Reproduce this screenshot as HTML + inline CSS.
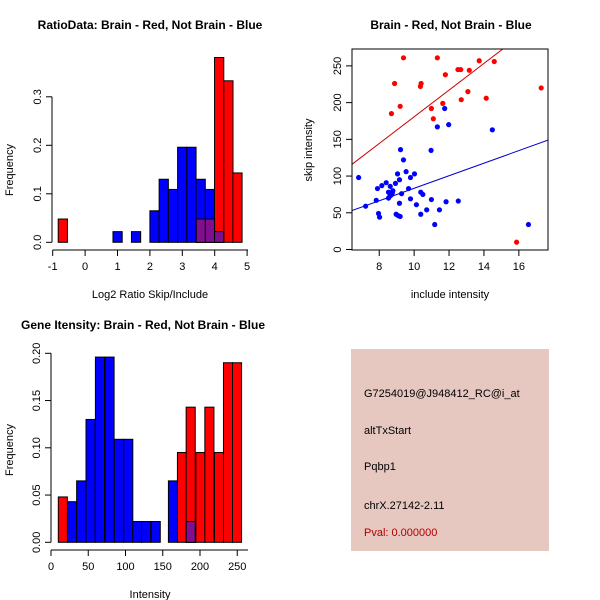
<!DOCTYPE html>
<html><head><meta charset="utf-8"><style>
body{margin:0;background:#fff}
svg{display:block;font-family:"Liberation Sans",sans-serif}
</style></head><body>
<svg id="c" width="600" height="600" viewBox="0 0 600 600" xmlns="http://www.w3.org/2000/svg">
<text x="150" y="29" text-anchor="middle" font-size="12" font-weight="bold">RatioData: Brain - Red, Not Brain - Blue</text>
<text x="451" y="29" text-anchor="middle" font-size="12" font-weight="bold">Brain - Red, Not Brain - Blue</text>
<text x="143" y="329" text-anchor="middle" font-size="12" font-weight="bold">Gene Itensity: Brain - Red, Not Brain - Blue</text>
<text x="150" y="298" text-anchor="middle" font-size="11">Log2 Ratio Skip/Include</text>
<text transform="translate(13,170) rotate(-90)" text-anchor="middle" font-size="11">Frequency</text>
<text x="450" y="298" text-anchor="middle" font-size="11">include intensity</text>
<text transform="translate(312,150) rotate(-90)" text-anchor="middle" font-size="11">skip intensity</text>
<text x="150" y="598" text-anchor="middle" font-size="11">Intensity</text>
<text transform="translate(13,450) rotate(-90)" text-anchor="middle" font-size="11">Frequency</text>
<g>
<rect x="351" y="349" width="198" height="202" fill="#e6c8c0"/>
<text x="364" y="397" font-size="11">G7254019@J948412_RC@i_at</text>
<text x="364" y="434" font-size="11">altTxStart</text>
<text x="364" y="470" font-size="11">Pqbp1</text>
<text x="364" y="509" font-size="11">chrX.27142-2.11</text>
<text x="364" y="536" font-size="11" fill="#b00000">Pval: 0.000000</text>
</g>
</svg>
<script>
// ---- Ratio histogram data ----
const ratioBlueStarts=[0.86,1.43,2.0,2.285,2.57,2.855,3.14,3.425,3.71,3.995];
const ratioBlueFreq=[0.022,0.022,0.065,0.13,0.109,0.196,0.196,0.13,0.109,0.022];
const ratioRedStarts=[-0.83,3.43,3.71,3.995,4.28,4.56];
const ratioRedFreq=[0.048,0.048,0.048,0.381,0.333,0.143];
const ratioXTicks=[-1,0,1,2,3,4,5];
const ratioYTicks=[0,0.1,0.2,0.3];
// ---- Intensity histogram data ----
const intBlueStarts=[22.4,34.4,47,59.6,72.5,85,97.6,109.7,121.5,134.5,157.6,181.4];
const intBlueFreq=[0.043,0.065,0.13,0.196,0.196,0.109,0.109,0.022,0.022,0.022,0.065,0.022];
const intRedStarts=[9.8,169.7,181.4,194.4,206.5,219.5,231.5,243.6];
const intRedFreq=[0.048,0.095,0.143,0.095,0.143,0.095,0.19,0.19];
const intXTicks=[0,50,100,150,200,250];
const intYTicks=["0.00","0.05","0.10","0.15","0.20"];
// ---- Scatter data ----
const redX=[9.39,11.33,8.88,10.4,10.36,8.7,9.2,11.79,12.51,12.67,13.16,13.73,14.59,13.08,12.7,11.64,10.99,11.1,14.13,17.28,15.87];
const redY=[261,261,226,226,222,185,195,238,245,245,244,257,256,215,204,199,192,178,206,220,10];
const blueX=[6.82,7.22,7.83,7.9,8.15,8.4,7.96,8.02,8.63,8.53,8.67,8.53,8.75,8.62,8.78,8.93,9.05,9.16,9.22,9.39,9.54,9.28,9.16,8.97,9.09,9.2,9.68,9.79,10.02,9.79,10.13,10.38,10.5,10.38,10.72,10.97,10.99,11.18,11.33,11.75,11.98,11.45,11.83,12.53,14.48,16.55];
const blueY=[98,59,67,83,87,91,49,44,86,78,74,70,77,73,80,90,103,95,136,122,106,76,63,48,46,45,83,98,103,69,61,78,75,48,54,135,68,34,167,192,170,54,65,66,163,34];
const redFit=[-1.0,18.17];   // intercept, slope
const blueFit=[-2.0,8.54];
const scatXTicks=[8,10,12,14,16];
const scatYTicks=[0,50,100,150,200,250];

const svg=document.getElementById('c');
const NS='http://www.w3.org/2000/svg';
function mk(tag,attrs,parent){const e=document.createElementNS(NS,tag);for(const k in attrs)e.setAttribute(k,attrs[k]);(parent||svg).appendChild(e);return e;}

function histogram(o){
  const g=mk('g',{});
  
  
  const xs=v=>o.x0+(v-o.xmin)*o.xk, ys=v=>o.y0-v*o.yk;
  const bars=(starts,freq,col,nm)=>starts.forEach((s,i)=>{
    const r=mk('rect',{x:xs(s),y:ys(freq[i]),width:o.w*o.xk,height:freq[i]*o.yk,fill:col,stroke:'#000','stroke-width':1},g);
    
    
  });
  bars(o.bS,o.bF,'#0000ff','blue');
  bars(o.rS,o.rF,'#ff0000','red');
  // overlaps drawn purple
  o.bS.forEach((bs,i)=>{o.rS.forEach((rs,j)=>{
    if(Math.abs(bs-rs)<o.w*0.5){const h=Math.min(o.bF[i],o.rF[j]);
      const r=mk('rect',{x:xs(Math.max(bs,rs)),y:ys(h),width:o.w*o.xk,height:h*o.yk,fill:'#7f0f8f',stroke:'#000','stroke-width':1},g);
      
      }
  });});
  // x axis
  const ax=mk('g',{},g);
  
  
  mk('line',{x1:xs(o.xt[0]),x2:o.xAxisEnd,y1:o.ya,y2:o.ya,stroke:'#000'},ax);
  o.xt.forEach(t=>{mk('line',{x1:xs(t),x2:xs(t),y1:o.ya,y2:o.ya+6,stroke:'#000'},ax);
    const tx=mk('text',{x:xs(t),y:o.ya+20,'text-anchor':'middle','font-size':11},ax);tx.textContent=t;
    
    });
  const ay=mk('g',{},g);
  
  
  const yv=o.yt.map(Number);
  mk('line',{x1:o.xa,x2:o.xa,y1:ys(yv[0]),y2:ys(yv[yv.length-1]),stroke:'#000'},ay);
  o.yt.forEach(t=>{const v=Number(t);mk('line',{x1:o.xa,x2:o.xa-6,y1:ys(v),y2:ys(v),stroke:'#000'},ay);
    const tx=mk('text',{transform:`translate(${o.xa-11},${ys(v)}) rotate(-90)`,'text-anchor':'middle','font-size':11},ay);tx.textContent=o.fmt?o.fmt(t):t;
    
    });
}
histogram({name:'ratio-histogram',x0:52.7,xmin:-1,xk:32.4,y0:242.3,yk:485,w:0.285,
  bS:ratioBlueStarts,bF:ratioBlueFreq,rS:ratioRedStarts,rF:ratioRedFreq,
  xt:ratioXTicks,yt:ratioYTicks,ya:250,xa:52,xAxisEnd:248,fmt:t=>Number(t).toFixed(1)});
histogram({name:'intensity-histogram',x0:51,xmin:0,xk:0.745,y0:542.3,yk:945,w:12.2,
  bS:intBlueStarts,bF:intBlueFreq,rS:intRedStarts,rF:intRedFreq,
  xt:intXTicks,yt:intYTicks,ya:550,xa:51,xAxisEnd:248});

// scatter
(function(){
  const L=352,R=548,T=49,B=250, xmin=6.44,xmax=17.67, y0=249.5, yk=0.7344;
  const xs=v=>L+(v-xmin)/(xmax-xmin)*(R-L), ys=v=>y0-v*yk;
  const g=mk('g',{});
  
  
  const cp=mk('clipPath',{id:'sc'},g);mk('rect',{x:L,y:T,width:R-L,height:B-T},cp);
  [[redFit,'#cc0000','red-fit-line'],[blueFit,'#0000cc','blue-fit-line']].forEach(([f,c,n])=>{
    const l=mk('line',{x1:xs(xmin),y1:ys(f[0]+f[1]*xmin),x2:xs(xmax),y2:ys(f[0]+f[1]*xmax),stroke:c,'stroke-width':1,'clip-path':'url(#sc)'},g);
    
    
  });
  blueX.forEach((x,i)=>{const p=mk('circle',{cx:xs(x),cy:ys(blueY[i]),r:2.6,fill:'#0000ff'},g);
    
    });
  redX.forEach((x,i)=>{const p=mk('circle',{cx:xs(x),cy:ys(redY[i]),r:2.6,fill:'#ff0000'},g);
    
    });
  const box=mk('rect',{x:L,y:T,width:R-L,height:B-T,fill:'none',stroke:'#000'},g);
  
  
  scatXTicks.forEach(t=>{mk('line',{x1:xs(t),x2:xs(t),y1:B,y2:B+6,stroke:'#000'},g);
    const tx=mk('text',{x:xs(t),y:B+20,'text-anchor':'middle','font-size':11},g);tx.textContent=t;
    
    });
  scatYTicks.forEach(t=>{mk('line',{x1:L,x2:L-6,y1:ys(t),y2:ys(t),stroke:'#000'},g);
    const tx=mk('text',{transform:`translate(${L-11},${ys(t)}) rotate(-90)`,'text-anchor':'middle','font-size':11},g);tx.textContent=t;
    
    });
})();
</script>
</body></html>
